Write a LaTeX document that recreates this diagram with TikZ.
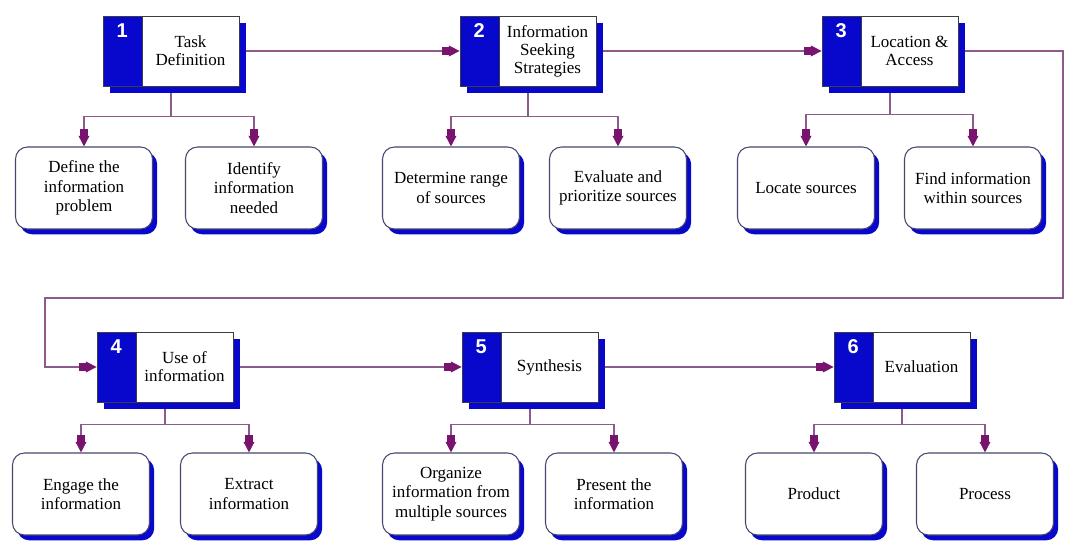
\documentclass[tikz,border=0pt]{standalone}
\usepackage{fontspec}
\setmainfont{Liberation Serif}
\newfontfamily\numfont{Liberation Sans}
\usetikzlibrary{arrows.meta,shadows,backgrounds,calc}
\definecolor{boxblue}{RGB}{8,8,204}
\definecolor{linec}{RGB}{140,90,140}
\definecolor{tipc}{RGB}{120,20,110}
\definecolor{edgec}{RGB}{60,60,70}
\definecolor{childedge}{RGB}{70,70,110}
\begin{document}
\begin{tikzpicture}[x=0.75pt,y=-0.75pt,
  mainbox/.style={rectangle, draw=edgec, line width=0.6pt, fill=boxblue,
    minimum width=102pt, minimum height=52.5pt, inner sep=0pt,
    drop shadow={shadow xshift=5.25pt, shadow yshift=-5.25pt, fill=boxblue, opacity=1}},
  maintext/.style={rectangle, draw=edgec, line width=0.6pt, fill=white,
    minimum width=72.75pt, minimum height=52.5pt, inner sep=1pt, align=center,
    font=\fontsize{12.75}{13.5}\selectfont},
  num/.style={font=\numfont\bfseries\fontsize{15}{15}\selectfont, text=white, inner sep=0pt},
  child/.style={rectangle, rounded corners=9pt, draw=childedge, line width=0.8pt, fill=white,
    minimum width=102.75pt, minimum height=61.5pt, align=center, inner sep=2pt,
    font=\fontsize{12.75}{14.6}\selectfont,
    drop shadow={shadow xshift=3.5pt, shadow yshift=-4pt, fill=boxblue, opacity=1}},
  conn/.style={draw=linec, line width=1.1pt},
  arr/.style={conn, -{Rectangle[length=5pt,width=6.5pt,color=tipc] Triangle[length=8pt,width=8pt,color=tipc]}},
]
\useasboundingbox (0,0) rectangle (1065,541);

% main boxes
\node[mainbox] (b1) at (171,51) {};
\node[maintext, anchor=east] (t1) at (b1.east) {Task\\Definition};
\node[num] (n1) at ($(b1.north west)+(19.5,15)$) {1};

\node[mainbox] (b2) at (528,51) {};
\node[maintext, anchor=east] (t2) at (b2.east) {Information\\Seeking\\Strategies};
\node[num] (n2) at ($(b2.north west)+(19.5,15)$) {2};

\node[mainbox] (b3) at (890,51) {};
\node[maintext, anchor=east] (t3) at (b3.east) {Location \&\\Access};
\node[num] (n3) at ($(b3.north west)+(19.5,15)$) {3};

\node[mainbox] (b4) at (165,367) {};
\node[maintext, anchor=east] (t4) at (b4.east) {Use of\\information};
\node[num] (n4) at ($(b4.north west)+(19.5,15)$) {4};

\node[mainbox] (b5) at (530,367) {};
\node[maintext, anchor=east] (t5) at (b5.east) {Synthesis};
\node[num] (n5) at ($(b5.north west)+(19.5,15)$) {5};

\node[mainbox] (b6) at (902,367) {};
\node[maintext, anchor=east] (t6) at (b6.east) {Evaluation};
\node[num] (n6) at ($(b6.north west)+(19.5,15)$) {6};

% children
\node[child] (c1a) at (84,188) {Define the\\information\\problem};
\node[child] (c1b) at (254,188) {Identify\\information\\needed};
\node[child] (c2a) at (451,188) {Determine range\\of sources};
\node[child] (c2b) at (618,188) {Evaluate and\\prioritize sources};
\node[child] (c3a) at (806,188) {Locate sources};
\node[child] (c3b) at (973,188) {Find information\\within sources};

\node[child] (c4a) at (81,494) {Engage the\\information};
\node[child] (c4b) at (249,494) {Extract\\information};
\node[child] (c5a) at (451,494) {Organize\\information from\\multiple sources};
\node[child] (c5b) at (614,494) {Present the\\information};
\node[child] (c6a) at (814,494) {Product};
\node[child] (c6b) at (985,494) {Process};

\coordinate (j1) at ($(b1.south)+(0,30)$);
\coordinate (j2) at ($(b2.south)+(0,30)$);
\coordinate (j3) at ($(b3.south)+(0,28)$);
\coordinate (j4) at ($(b4.south)+(0,22)$);
\coordinate (j5) at ($(b5.south)+(0,22)$);
\coordinate (j6) at ($(b6.south)+(0,22)$);
\coordinate (w1) at (1063,298);
\coordinate (w2) at (45,298);

\begin{pgfonlayer}{background}
\fill[white] (0,0) rectangle (1065,541);
\draw[arr] (b1.east) -- (b2.west);
\draw[arr] (b2.east) -- (b3.west);
\draw[arr] (b3.east) -| (w1) -- (w2) |- (b4.west);
\draw[arr] (b4.east) -- (b5.west);
\draw[arr] (b5.east) -- (b6.west);

\draw[conn] (b1.south) -- (j1);
\draw[arr] (j1) -| (c1a.north);
\draw[arr] (j1) -| (c1b.north);
\draw[conn] (b2.south) -- (j2);
\draw[arr] (j2) -| (c2a.north);
\draw[arr] (j2) -| (c2b.north);
\draw[conn] (b3.south) -- (j3);
\draw[arr] (j3) -| (c3a.north);
\draw[arr] (j3) -| (c3b.north);
\draw[conn] (b4.south) -- (j4);
\draw[arr] (j4) -| (c4a.north);
\draw[arr] (j4) -| (c4b.north);
\draw[conn] (b5.south) -- (j5);
\draw[arr] (j5) -| (c5a.north);
\draw[arr] (j5) -| (c5b.north);
\draw[conn] (b6.south) -- (j6);
\draw[arr] (j6) -| (c6a.north);
\draw[arr] (j6) -| (c6b.north);
\end{pgfonlayer}
\end{tikzpicture}
\end{document}
